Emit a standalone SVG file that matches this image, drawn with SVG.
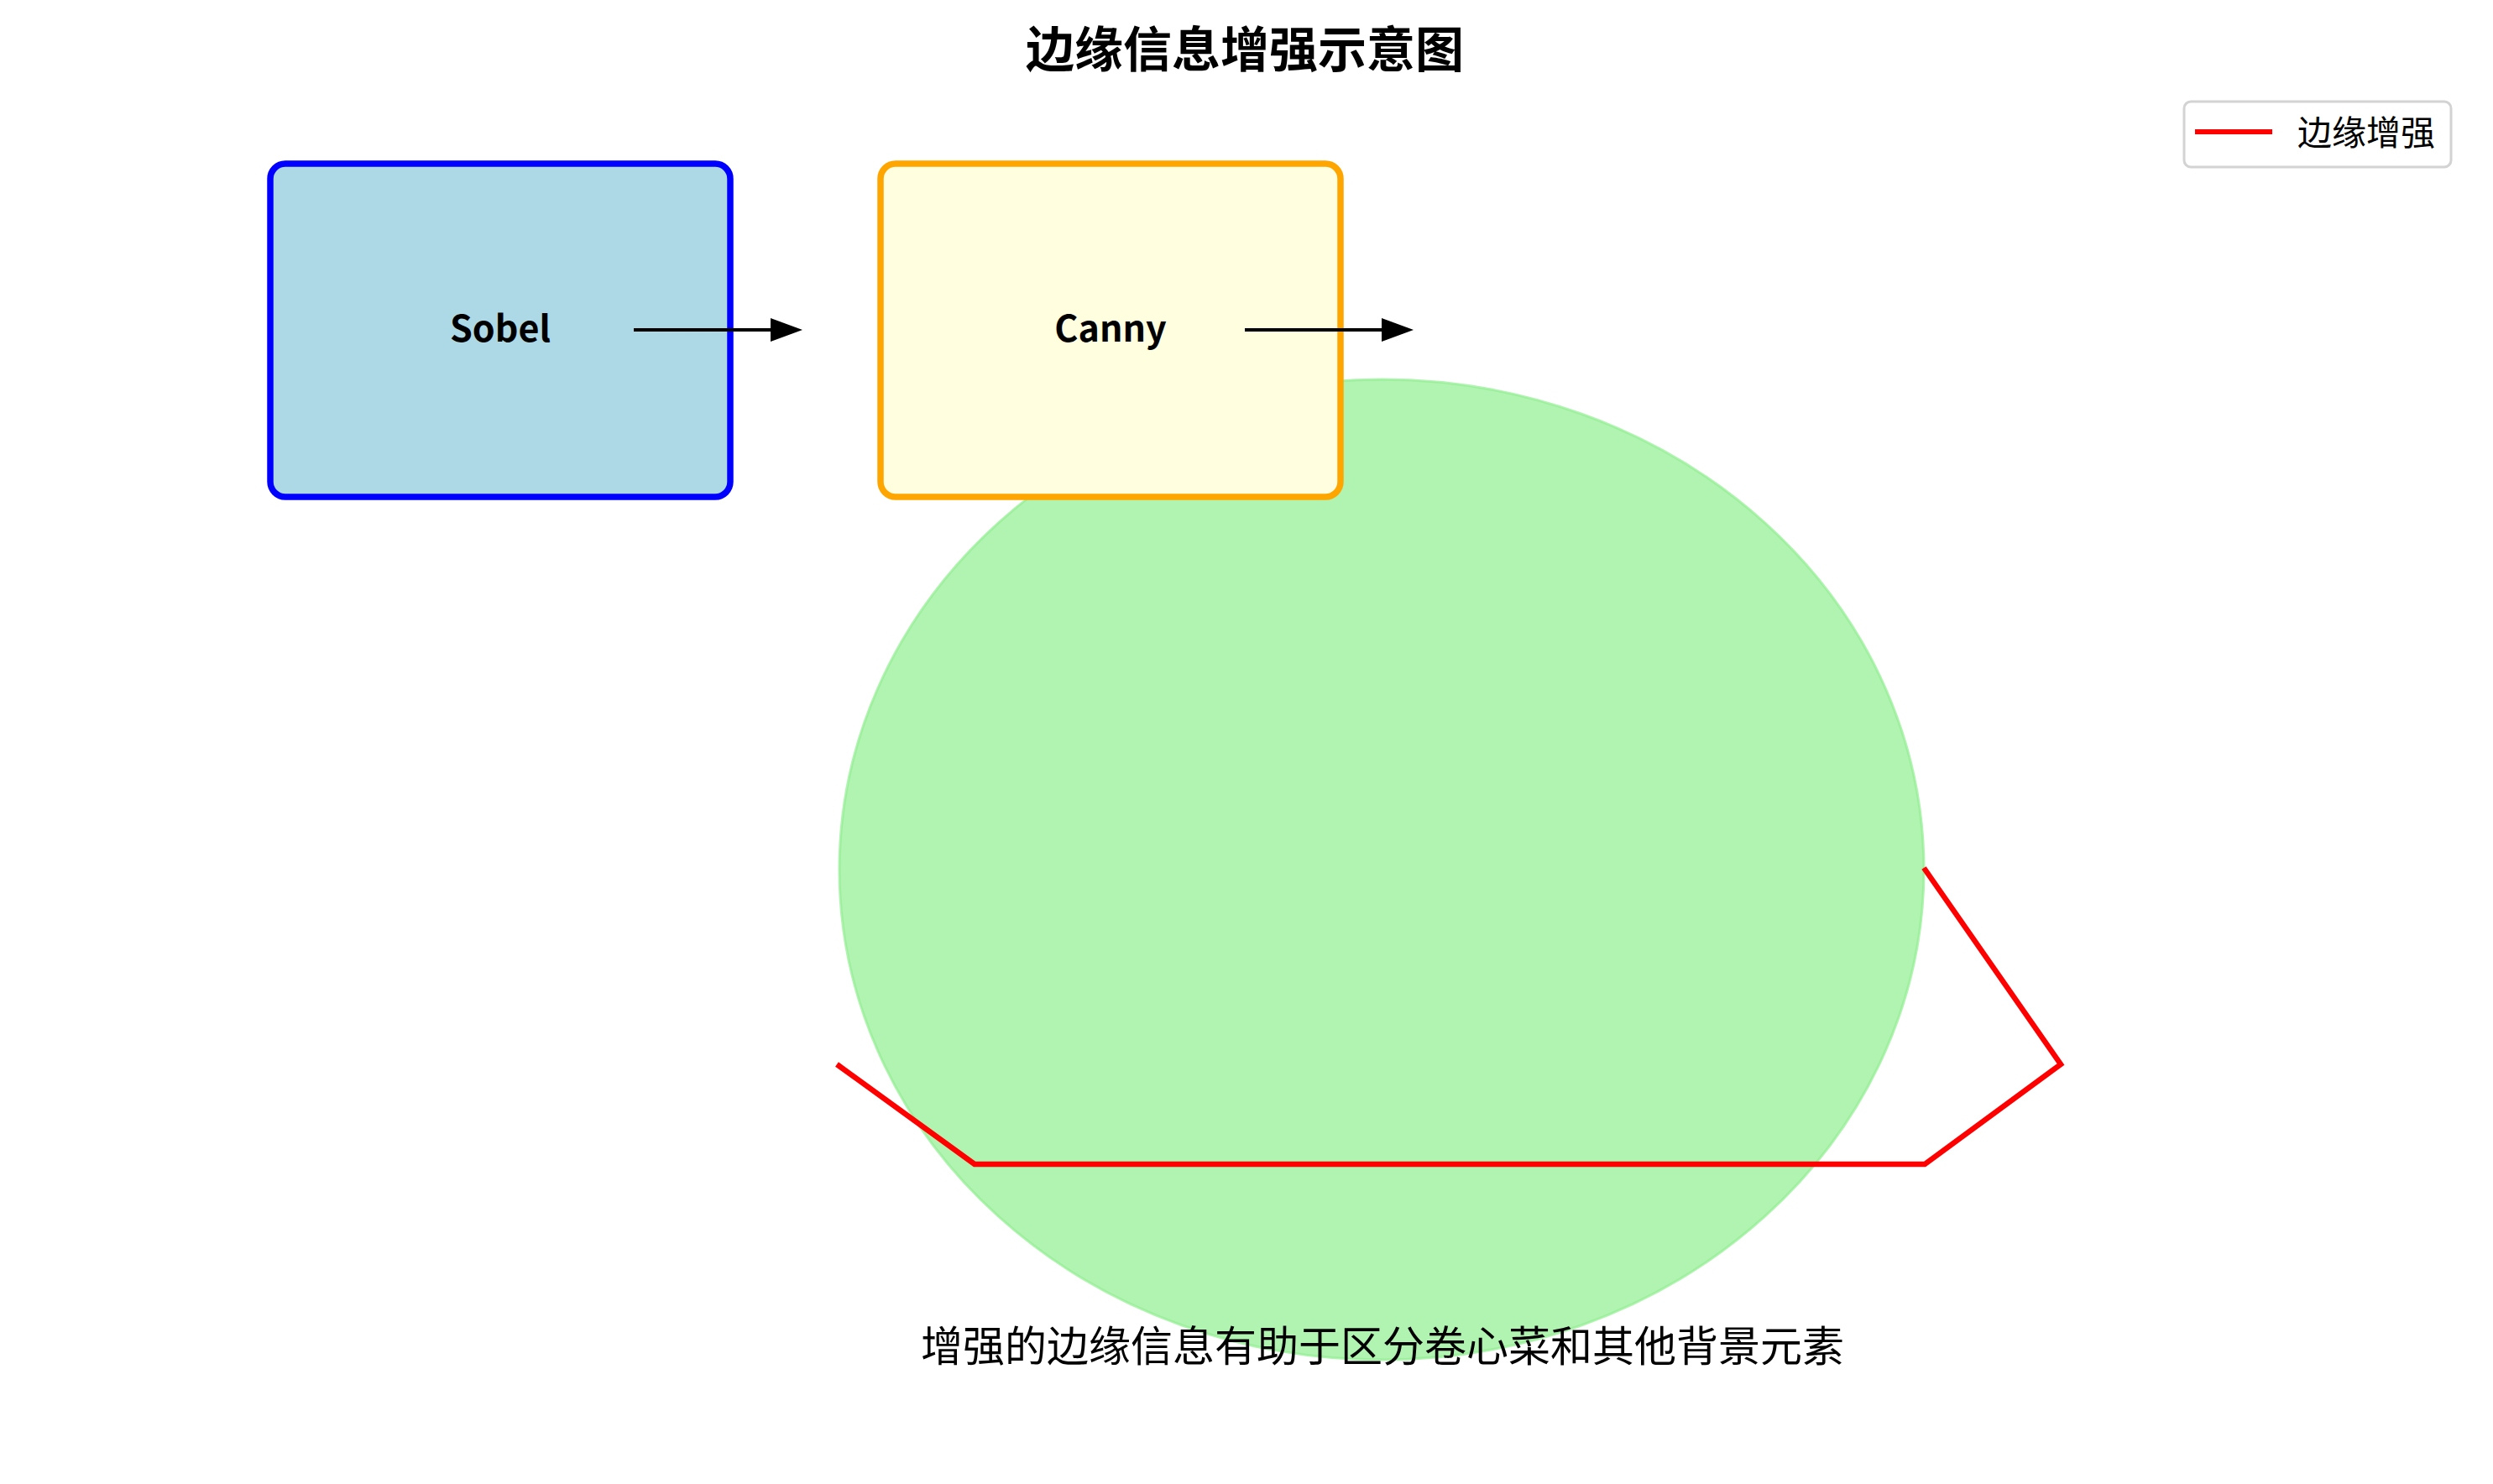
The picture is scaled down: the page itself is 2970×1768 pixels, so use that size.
<svg xmlns="http://www.w3.org/2000/svg" width="2970" height="1768" viewBox="0 0 2970 1768">
<style>
.cjk{font-family:"Noto Sans CJK SC","Noto Sans",sans-serif;fill:#000}
.lbl{font-family:"Noto Sans CJK SC","Noto Sans",sans-serif;font-weight:bold;font-size:43px;text-anchor:middle;fill:#000}
.box{stroke-width:7.5}
.arrow{stroke:#000;stroke-width:4;fill:none}
</style>
<defs>
<marker id="ah" markerUnits="userSpaceOnUse" markerWidth="40" markerHeight="30" refX="0" refY="14" orient="auto">
<path d="M0,0 L38,14 L0,28 Z" fill="#000"/>
</marker>
</defs>
<rect width="2970" height="1768" fill="#fff"/>
<text class="cjk" x="1483" y="80" font-size="58" font-weight="bold" text-anchor="middle">边缘信息增强示意图</text>
<g id="cabbage">
<ellipse cx="1646" cy="1036" rx="646" ry="584" fill="#90ee90" fill-opacity="0.7" stroke="#90ee90" stroke-opacity="0.7" stroke-width="3"/>
</g>
<g id="sobel">
<rect class="box" x="322" y="195" width="548" height="397" rx="18" fill="#add8e6" stroke="#0000ff"/>
<text class="lbl" x="596" y="407">Sobel</text>
</g>
<g id="canny">
<rect class="box" x="1049" y="195" width="548" height="397" rx="18" fill="#ffffe0" stroke="#ffa500"/>
<text class="lbl" x="1323" y="407">Canny</text>
</g>
<g id="connectors">
<line class="arrow" x1="755" y1="393" x2="918" y2="393" marker-end="url(#ah)"/>
<line class="arrow" x1="1483" y1="393" x2="1646" y2="393" marker-end="url(#ah)"/>
</g>
<g id="edge">
<polyline points="997,1268 1161,1387 2293,1387 2455,1268 2292,1034" fill="none" stroke="#ff0000" stroke-width="6.5" stroke-linejoin="miter"/>
</g>
<text class="cjk" x="1647" y="1622" font-size="50" text-anchor="middle">增强的边缘信息有助于区分卷心菜和其他背景元素</text>
<g id="legend">
<rect x="2602" y="121" width="318" height="78" rx="8" fill="#fff" fill-opacity="0.8" stroke="#d3d3d3" stroke-width="3"/>
<line x1="2615" y1="157" x2="2707" y2="157" stroke="#ff0000" stroke-width="6"/>
<text class="cjk" x="2737" y="173" font-size="41">边缘增强</text>
</g>
</svg>
